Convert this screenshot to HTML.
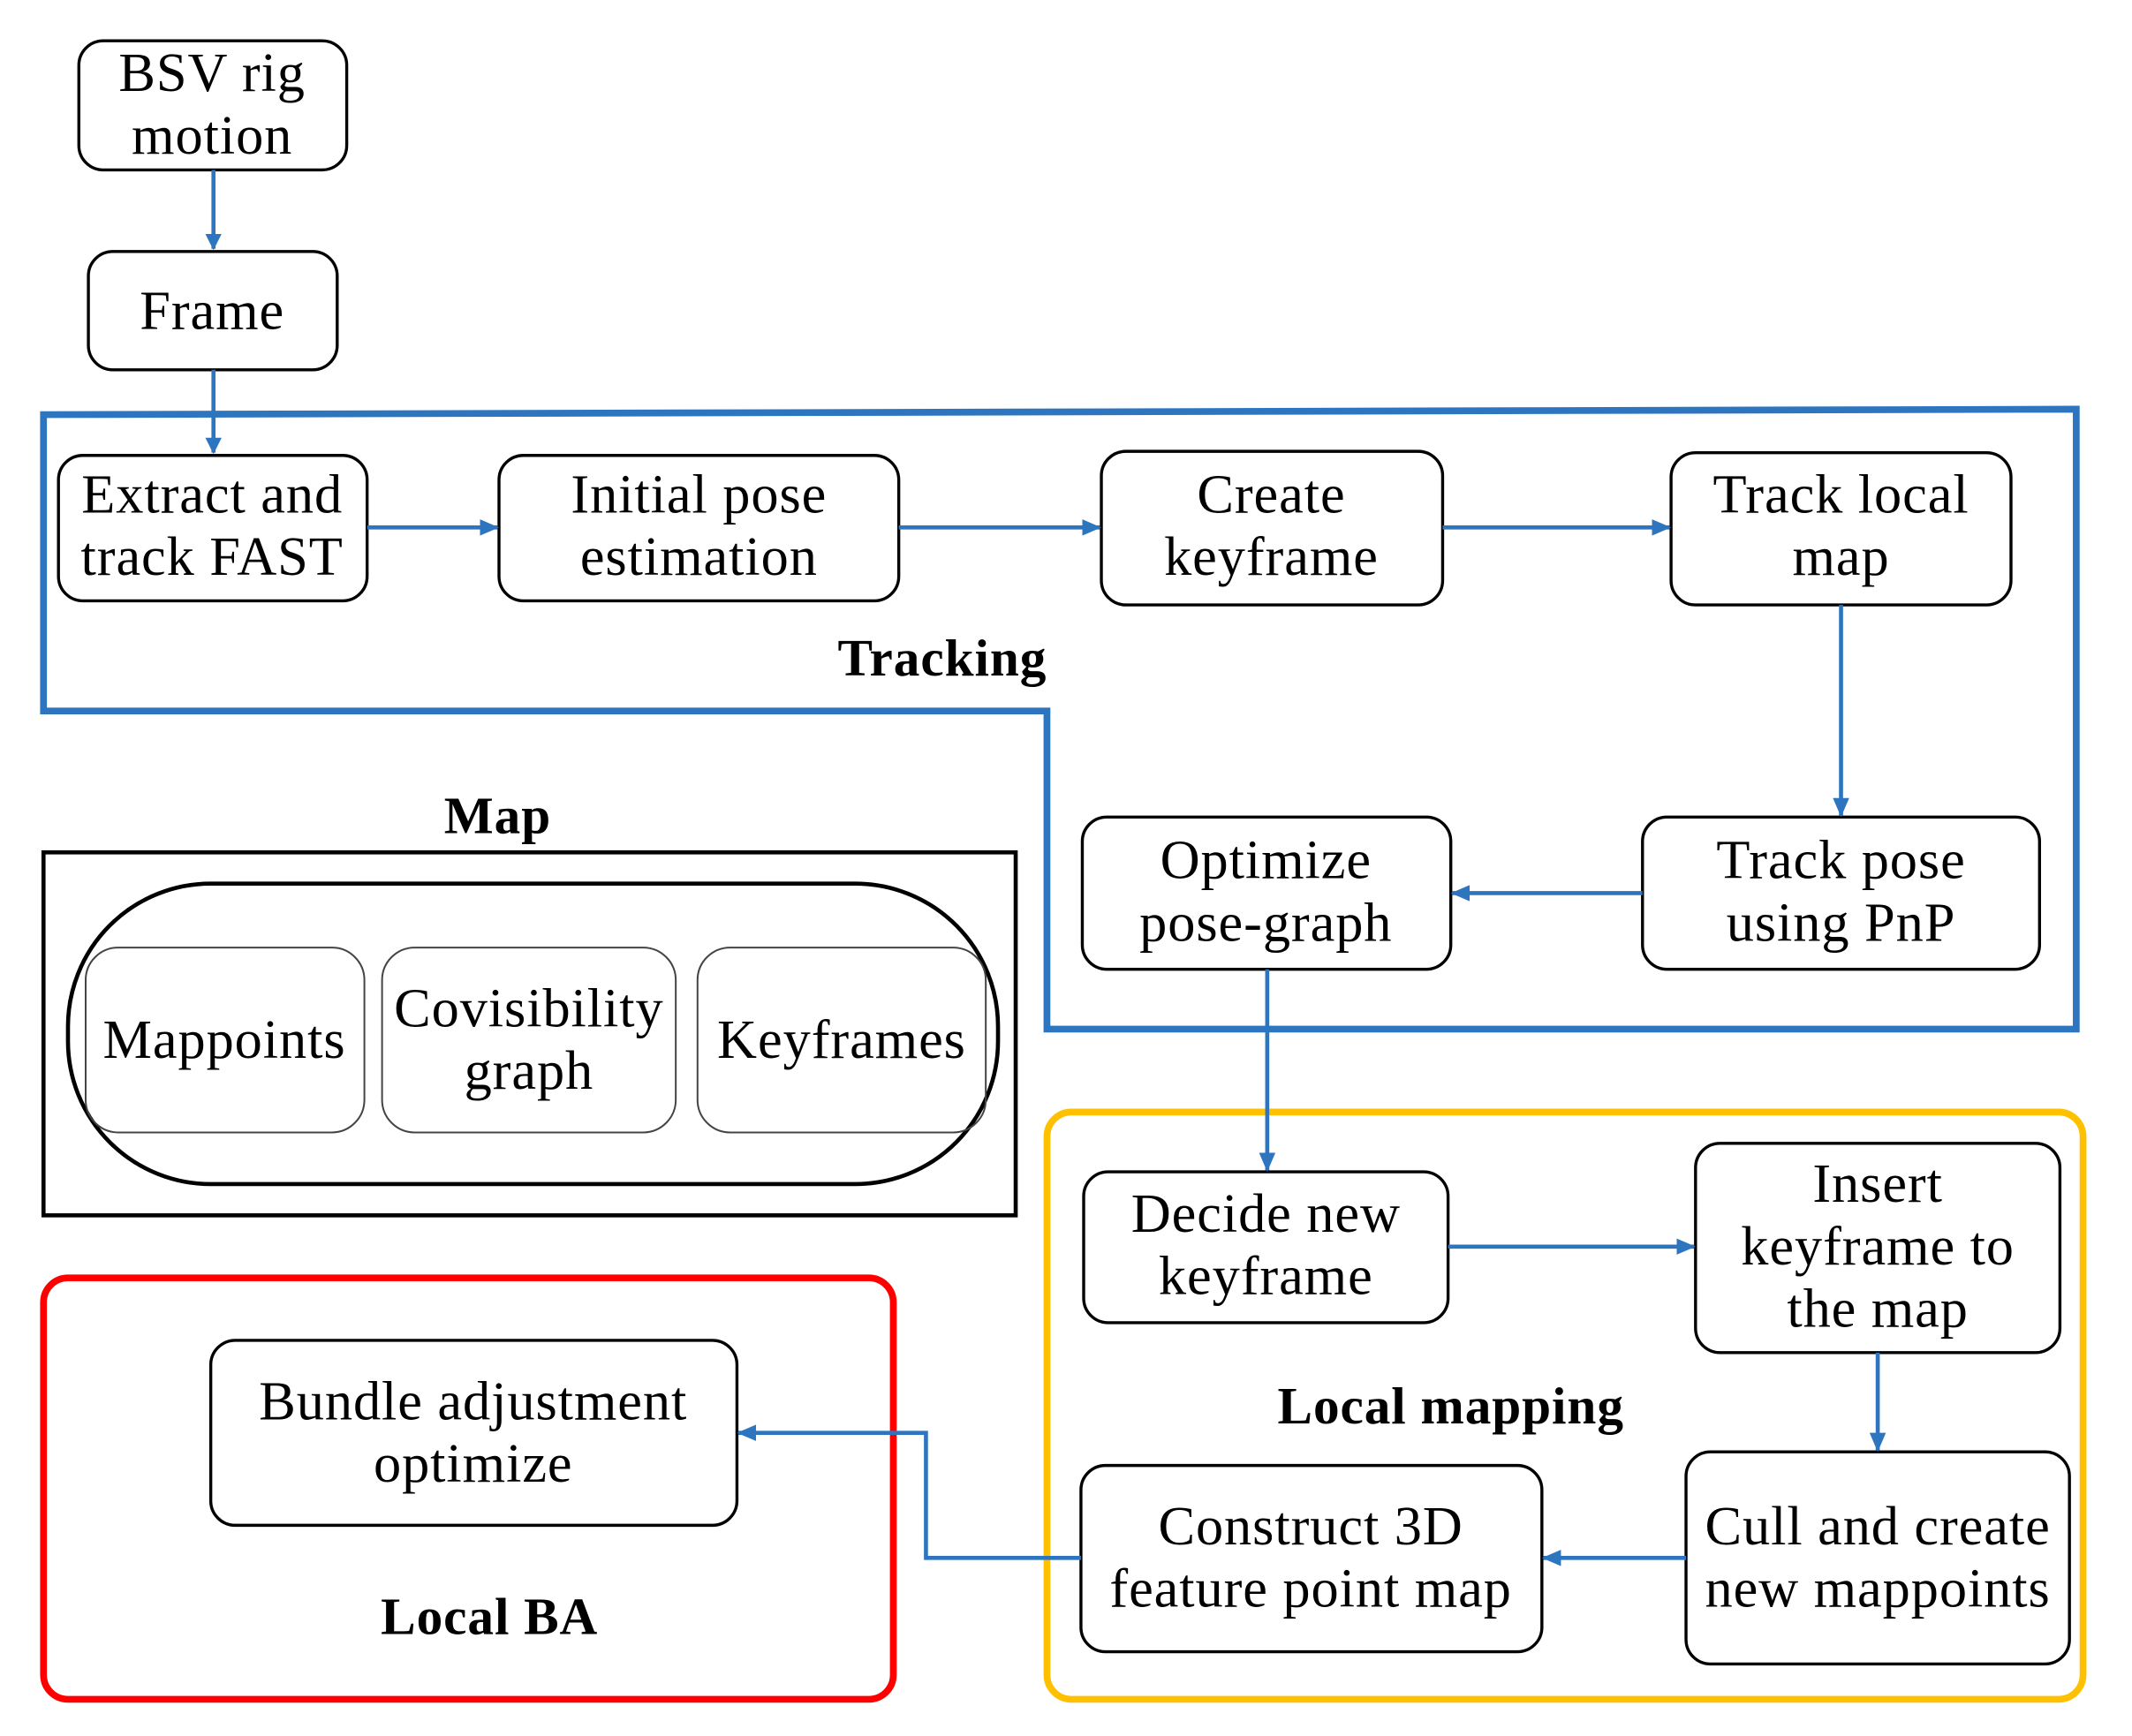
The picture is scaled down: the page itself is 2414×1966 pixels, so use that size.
<!DOCTYPE html>
<html><head><meta charset="utf-8"><style>html,body{margin:0;padding:0;background:#fff}svg{display:block}</style></head>
<body>
<svg width="2414" height="1966" viewBox="0 0 1568 1277" preserveAspectRatio="none" xmlns="http://www.w3.org/2000/svg">
<defs><marker id="a" markerWidth="12" markerHeight="12" refX="11" refY="6" orient="auto" markerUnits="userSpaceOnUse"><path d="M0,0 L12,6 L0,12 z" fill="#2e75c0"/></marker>
<marker id="b" markerWidth="14" markerHeight="12" refX="13" refY="6" orient="auto" markerUnits="userSpaceOnUse"><path d="M0,0 L14,6 L0,12 z" fill="#2e75c0"/></marker></defs>
<g font-family="Liberation Serif, serif" font-size="40.5" letter-spacing="0.6" text-anchor="middle" fill="#000">
<path d="M32,305 L1527,301 L1527,757 L770,757 L770,523 L32,523 Z" fill="none" stroke="#2e75c0" stroke-width="5"/>
<rect x="770" y="818" width="762" height="432" rx="18" fill="none" stroke="#ffc000" stroke-width="5"/>
<rect x="32" y="940" width="625" height="310" rx="18" fill="none" stroke="#ff0000" stroke-width="5"/>
<rect x="32" y="627" width="715" height="267" fill="none" stroke="#000" stroke-width="3"/>
<rect x="50" y="650" width="684" height="221" rx="105" fill="none" stroke="#000" stroke-width="3"/>
<g fill="none" stroke="#444" stroke-width="1.3">
<rect x="63" y="697" width="205" height="136" rx="24"/>
<rect x="281" y="697" width="216" height="136" rx="24"/>
<rect x="513" y="697" width="212" height="136" rx="24"/>
</g>
<g fill="none" stroke="#000" stroke-width="2.2">
<rect x="58" y="30" width="197" height="95" rx="18"/>
<rect x="65" y="185" width="183" height="87" rx="18"/>
<rect x="43" y="335" width="227" height="107" rx="18"/>
<rect x="367" y="335" width="294" height="107" rx="18"/>
<rect x="810" y="332" width="251" height="113" rx="18"/>
<rect x="1229" y="333" width="250" height="112" rx="18"/>
<rect x="1208" y="601" width="292" height="112" rx="18"/>
<rect x="796" y="601" width="271" height="112" rx="18"/>
<rect x="797" y="862" width="268" height="111" rx="18"/>
<rect x="1247" y="841" width="268" height="154" rx="18"/>
<rect x="1240" y="1068" width="282" height="156" rx="18"/>
<rect x="795" y="1078" width="339" height="137" rx="18"/>
<rect x="155" y="986" width="387" height="136" rx="18"/>
</g>
<g fill="none" stroke="#2e75c0" stroke-width="3">
<line x1="157" y1="125" x2="157" y2="183" marker-end="url(#a)"/>
<line x1="157" y1="272" x2="157" y2="333" marker-end="url(#a)"/>
<line x1="270" y1="388" x2="366" y2="388" marker-end="url(#b)"/>
<line x1="661" y1="388" x2="809" y2="388" marker-end="url(#b)"/>
<line x1="1061" y1="388" x2="1228" y2="388" marker-end="url(#b)"/>
<line x1="1354" y1="445" x2="1354" y2="600" marker-end="url(#b)"/>
<line x1="1208" y1="657" x2="1068" y2="657" marker-end="url(#b)"/>
<line x1="932" y1="713" x2="932" y2="861" marker-end="url(#b)"/>
<line x1="1065" y1="917" x2="1246" y2="917" marker-end="url(#b)"/>
<line x1="1381" y1="995" x2="1381" y2="1067" marker-end="url(#b)"/>
<line x1="1240" y1="1146" x2="1135" y2="1146" marker-end="url(#b)"/>
<polyline points="795,1146 681,1146 681,1054 543,1054" marker-end="url(#b)"/>
</g>
<text x="156" y="67">BSV rig</text><text x="156" y="113">motion</text>
<text x="156" y="242">Frame</text>
<text x="156" y="377">Extract and</text><text x="156" y="423">track  FAST</text>
<text x="514" y="377">Initial pose</text><text x="514" y="423">estimation</text>
<text x="935" y="377">Create</text><text x="935" y="423">keyframe</text>
<text x="1354" y="377">Track local</text><text x="1354" y="423">map</text>
<text x="1354" y="646">Track pose</text><text x="1354" y="692">using PnP</text>
<text x="931" y="646">Optimize</text><text x="931" y="692">pose-graph</text>
<text x="165" y="778">Mappoints</text>
<text x="389" y="755">Covisibility</text><text x="389" y="801">graph</text>
<text x="619" y="778">Keyframes</text>
<text x="931" y="906">Decide new</text><text x="931" y="952">keyframe</text>
<text x="1381" y="884">Insert</text><text x="1381" y="930">keyframe to</text><text x="1381" y="976">the map</text>
<text x="1381" y="1136">Cull and create</text><text x="1381" y="1182">new mappoints</text>
<text x="964" y="1136">Construct 3D</text><text x="964" y="1182">feature point map</text>
<text x="348" y="1044">Bundle adjustment</text><text x="348" y="1090">optimize</text>
<g font-weight="bold" font-size="38.5">
<text x="693" y="497">Tracking</text>
<text x="366" y="613">Map</text>
<text x="1067" y="1047">Local mapping</text>
<text x="360" y="1202">Local BA</text>
</g>
</g>
</svg>
</body></html>
